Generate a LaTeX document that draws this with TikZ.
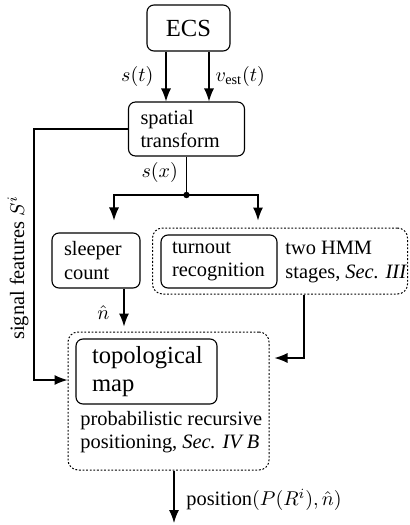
\documentclass[tikz,border=0pt]{standalone}
\usepackage{fontspec}
\setmainfont{Liberation Serif}
\usetikzlibrary{arrows.meta}
\begin{document}
\begin{tikzpicture}[x=0.5pt,y=-0.5pt,
  box/.style={draw, rounded corners=3.5pt, line width=0.55pt, inner ysep=0pt},
  dotbox/.style={draw, rounded corners=5pt, line width=0.5pt, dash pattern=on 0.9pt off 0.9pt, inner sep=0pt},
  arr/.style={-{Latex[length=6.5pt,width=5pt]}, line width=0.6pt},
  conn/.style={line width=0.6pt},
  txt/.style={font=\rmfamily\fontsize{10.2}{11.6}\selectfont},
  big/.style={font=\rmfamily\fontsize{12.3}{13.6}\selectfont}]
\useasboundingbox (0,0) rectangle (409,525);

% boxes
\node[box, big, minimum width=41.5pt, minimum height=23pt] (ecs) at (188.5,28) {ECS};
\node[box, txt, align=left, text width=46pt, inner xsep=6pt, minimum height=27pt] (st) at (186.5,129) {spatial\\transform};
\node[box, txt, align=left, text width=32pt, inner xsep=6pt, minimum height=27.5pt] (sc) at (96,260.5) {sleeper\\count};
\node[box, txt, align=left, text width=47pt, inner xsep=5.5pt, minimum height=26.5pt] (tr) at (219,261.5) {turnout\\recognition};
\node[txt, align=left, anchor=west, inner sep=0pt] (hmmtxt) at (285,262) {two HMM\\stages, \textit{Sec. III}};
\node[dotbox, minimum width=127.5pt, minimum height=33pt] (hmm) at (280,261) {};

\node[dotbox, minimum width=100.5pt, minimum height=69pt] (tb) at (168.5,401) {};
\node[box, big, align=left, text width=54.5pt, inner xsep=8pt, minimum height=32.5pt] (tm) at (146.5,371.5) {topological\\map};
\node[txt, align=left, anchor=west, inner sep=0pt] (prob) at (80,432) {probabilistic recursive\\positioning, \textit{Sec. IV B}};

% helper coordinates
\coordinate (e1) at (166,0);
\coordinate (e2) at (209,0);
\coordinate (lc) at (34,380);
\coordinate (j) at (186.5,195);
\coordinate (a1) at (114,0);
\coordinate (a2) at (258,0);
\coordinate (s1) at (124,0);
\coordinate (h1) at (304,358);
\coordinate (o) at (174,523);

% connectors
\draw[arr] (ecs.south -| e1) -- node[txt, anchor=east, inner sep=0pt, xshift=-6pt] {$s(t)$} (st.north -| e1);
\draw[arr] (ecs.south -| e2) -- node[txt, anchor=west, inner sep=0pt, xshift=3pt] {$v_{\mathrm{est}}(t)$} (st.north -| e2);

\draw[arr] (st.west) -| (lc) -- (tb.west |- lc);
\node[txt, rotate=90] (sf) at (18,268) {signal features $S^i$};

\draw[conn] (st.south) -- node[txt, anchor=east, inner sep=0pt, xshift=-4pt, pos=0.42] {$s(x)$} (j);
\fill (j) circle (1.6pt);
\draw[arr, shorten >=6pt] (j) -| (sc.north -| a1);
\draw[arr, shorten >=3.5pt] (j) -| (hmm.north -| a2);

\draw[arr, shorten >=2.5pt] (sc.south -| s1) -- node[txt, anchor=east, inner sep=0pt, xshift=-7pt, pos=0.55] {$\hat{n}$} (tb.north -| s1);
\draw[arr, shorten >=2.5pt] (hmm.south -| h1) -- (h1) -- (tb.east |- h1);

\draw[arr] (tb.south -| o) -- (o);
\node[txt, anchor=west, inner sep=0pt] (pos) at (186,500) {position$(P(R^i),\hat{n})$};
\end{tikzpicture}
\end{document}
